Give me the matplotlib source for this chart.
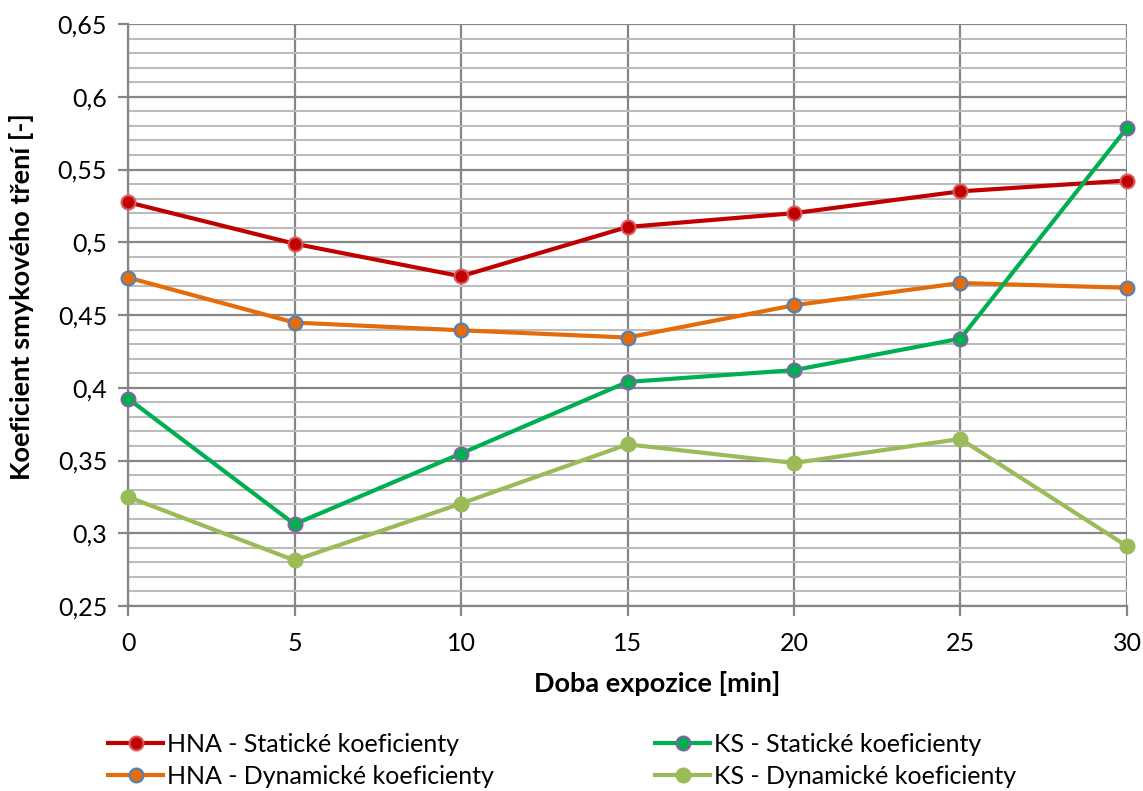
import matplotlib
matplotlib.use("Agg")
import matplotlib.pyplot as plt
from matplotlib.ticker import MultipleLocator, FuncFormatter

# Data
doba = [0, 5, 10, 15, 20, 25, 30]
hna_staticke = [0.5275, 0.499, 0.4766, 0.5105, 0.520, 0.535, 0.5424]
hna_dynamicke = [0.4757, 0.4448, 0.4395, 0.4345, 0.4567, 0.472, 0.4687]
ks_staticke = [0.3926, 0.3062, 0.3548, 0.404, 0.4121, 0.4338, 0.5786]
ks_dynamicke = [0.325, 0.2814, 0.3204, 0.3611, 0.3483, 0.3648, 0.2911]

plt.rcParams['font.family'] = ['Lato', 'DejaVu Sans']

fig = plt.figure(figsize=(11.43, 7.91), dpi=100)
ax = fig.add_axes([128 / 1143, 1 - 606 / 791, (1127 - 128) / 1143, (606 - 24) / 791])

# grid
ax.set_xlim(0, 30)
ax.set_ylim(0.25, 0.65)
ax.xaxis.set_major_locator(MultipleLocator(5))
ax.yaxis.set_major_locator(MultipleLocator(0.05))
ax.yaxis.set_minor_locator(MultipleLocator(0.01))
ax.grid(which='minor', axis='y', color='#bcbcbc', linewidth=1.5, zorder=0)
ax.grid(which='major', axis='y', color='#868686', linewidth=1.6, zorder=0)
ax.grid(which='major', axis='x', color='#868686', linewidth=1.6, zorder=0)
ax.set_axisbelow(True)

for s in ['top', 'right']:
    ax.spines[s].set_visible(False)
for s in ['left', 'bottom']:
    ax.spines[s].set_color('#868686')
    ax.spines[s].set_linewidth(1.6)

ax.tick_params(axis='both', which='major', length=7, width=1.6, color='#868686',
               labelsize=18)
ax.tick_params(axis='x', pad=12)
ax.tick_params(axis='y', pad=8)
ax.tick_params(axis='y', which='minor', length=0)
ax.yaxis.set_major_formatter(FuncFormatter(lambda v, p: f"{v:.2f}".rstrip('0').rstrip('.').replace('.', ',')))

series = [
    (hna_staticke, '#c00000', '#d9585a', 'HNA - Statické koeficienty'),
    (hna_dynamicke, '#e46c0a', '#4f81bd', 'HNA - Dynamické koeficienty'),
    (ks_staticke, '#00b050', '#8064a2', 'KS - Statické koeficienty'),
    (ks_dynamicke, '#9bbb59', '#9bbb59', 'KS - Dynamické koeficienty'),
]
handles = []
for vals, col, edge, lab in series:
    h, = ax.plot(doba, vals, color=col, linewidth=3, marker='o', markersize=10,
                 markerfacecolor=col, markeredgecolor=edge, markeredgewidth=1.5,
                 label=lab, clip_on=False, zorder=3)
    handles.append(h)

fig.text(657 / 1143, 1 - 684 / 791, 'Doba expozice [min]', ha='center', va='center',
         fontsize=19.5, fontweight='bold')
fig.text(22 / 1143, 1 - 297 / 791, 'Koeficient smykového tření [-]', ha='center', va='center',
         rotation=90, fontsize=19.5, fontweight='bold')

leg_kw = dict(frameon=False, fontsize=18, handlelength=2.2, handletextpad=0.15,
              labelspacing=0.35, borderaxespad=0, borderpad=0)
leg1 = fig.legend(handles=handles[:2], loc='upper left',
                  bbox_to_anchor=(108 / 1143, 1 - 733 / 791), **leg_kw)
leg2 = fig.legend(handles=handles[2:], loc='upper left',
                  bbox_to_anchor=(655 / 1143, 1 - 733 / 791), **leg_kw)

fig.savefig('out.png', dpi=100)
